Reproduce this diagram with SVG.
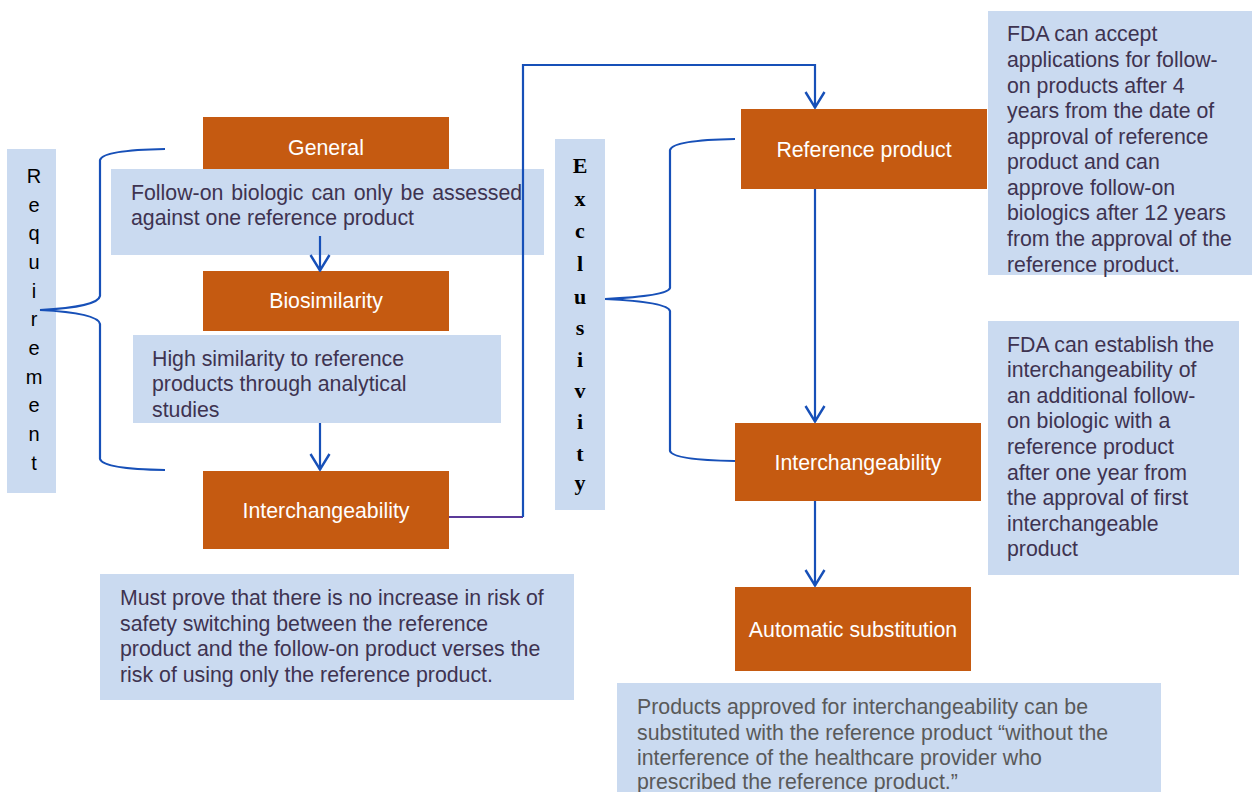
<svg xmlns="http://www.w3.org/2000/svg" width="1258" height="792" viewBox="0 0 1258 792">
<style>
.node{fill:#C55A11}
.note{fill:#CADAF0}
.nt{font-family:"Liberation Sans",Arial,sans-serif;font-size:21.3px;fill:#FFFFFF;text-anchor:middle}
.bt{font-family:"Liberation Sans",Arial,sans-serif;font-size:21.3px;fill:#3E3350}
.gt{font-family:"Liberation Sans",Arial,sans-serif;font-size:21.3px;fill:#595959}
.req{font-family:"Liberation Sans",Arial,sans-serif;font-size:20px;fill:#000000;text-anchor:middle}
.exc{font-family:"Liberation Serif","Times New Roman",serif;font-size:22px;font-weight:bold;fill:#000000;text-anchor:middle}
.ln{fill:none;stroke:#1750B8;stroke-width:2.2}
</style>
<defs>
<marker id="ah" viewBox="0 0 18 22" refX="17" refY="11" markerWidth="18" markerHeight="22" markerUnits="userSpaceOnUse" orient="auto">
<path d="M1,1.5 L16.5,11 L1,20.5" fill="none" stroke="#1750B8" stroke-width="2.4"/>
</marker>
</defs>

<g id="requirement">
<rect class="note" x="7" y="149" width="49" height="344"/>
<text class="req" x="34" y="183">R</text>
<text class="req" x="34" y="212">e</text>
<text class="req" x="34" y="240">q</text>
<text class="req" x="34" y="269">u</text>
<text class="req" x="34" y="298">i</text>
<text class="req" x="34" y="326">r</text>
<text class="req" x="34" y="355">e</text>
<text class="req" x="34" y="384">m</text>
<text class="req" x="34" y="412">e</text>
<text class="req" x="34" y="441">n</text>
<text class="req" x="34" y="470">t</text>
</g>

<g id="general">
<rect class="node" x="203" y="117" width="246" height="60"/>
<text class="nt" x="326" y="155">General</text>
</g>

<g id="note-general">
<rect class="note" x="111" y="169" width="433" height="86"/>
<text class="bt" x="131" y="200" word-spacing="2">Follow-on biologic can only be assessed</text>
<text class="bt" x="131" y="225">against one reference product</text>
</g>

<g id="biosimilarity">
<rect class="node" x="203" y="271" width="246" height="60"/>
<text class="nt" x="326" y="308">Biosimilarity</text>
</g>

<g id="note-biosimilarity">
<rect class="note" x="133" y="335" width="368" height="88"/>
<text class="bt" x="152" y="366">High similarity to reference</text>
<text class="bt" x="152" y="391">products through analytical</text>
<text class="bt" x="152" y="417">studies</text>
</g>

<g id="interchangeability-left">
<rect class="node" x="203" y="471" width="246" height="78"/>
<text class="nt" x="326" y="518">Interchangeability</text>
</g>

<g id="note-interchangeability-left">
<rect class="note" x="100" y="574" width="474" height="126"/>
<text class="bt" x="120" y="605">Must prove that there is no increase in risk of</text>
<text class="bt" x="120" y="631">safety switching between the reference</text>
<text class="bt" x="120" y="656">product and the follow-on product verses the</text>
<text class="bt" x="120" y="682">risk of using only the reference product.</text>
</g>

<g id="exclusivity">
<rect class="note" x="555" y="139" width="50" height="371"/>
<text class="exc" x="580" y="173">E</text>
<text class="exc" x="580" y="206">x</text>
<text class="exc" x="580" y="238">c</text>
<text class="exc" x="580" y="271">l</text>
<text class="exc" x="580" y="304">u</text>
<text class="exc" x="580" y="335">s</text>
<text class="exc" x="580" y="367">i</text>
<text class="exc" x="580" y="398">v</text>
<text class="exc" x="580" y="429">i</text>
<text class="exc" x="580" y="461">t</text>
<text class="exc" x="580" y="490">y</text>
</g>

<g id="reference-product">
<rect class="node" x="741" y="109" width="246" height="80"/>
<text class="nt" x="864" y="157">Reference product</text>
</g>

<g id="note-reference-product">
<rect class="note" x="988" y="11" width="264" height="264"/>
<text class="bt" x="1007" y="41">FDA can accept</text>
<text class="bt" x="1007" y="67">applications for follow-</text>
<text class="bt" x="1007" y="93">on products after 4</text>
<text class="bt" x="1007" y="118">years from the date of</text>
<text class="bt" x="1007" y="144">approval of reference</text>
<text class="bt" x="1007" y="169">product and can</text>
<text class="bt" x="1007" y="195">approve follow-on</text>
<text class="bt" x="1007" y="220">biologics after 12 years</text>
<text class="bt" x="1007" y="246">from the approval of the</text>
<text class="bt" x="1007" y="272">reference product.</text>
</g>

<g id="interchangeability-right">
<rect class="node" x="735" y="423" width="246" height="78"/>
<text class="nt" x="858" y="470">Interchangeability</text>
</g>

<g id="note-interchangeability-right">
<rect class="note" x="988" y="321" width="251" height="254"/>
<text class="bt" x="1007" y="352">FDA can establish the</text>
<text class="bt" x="1007" y="377">interchangeability of</text>
<text class="bt" x="1007" y="403">an additional follow-</text>
<text class="bt" x="1007" y="428">on biologic with a</text>
<text class="bt" x="1007" y="454">reference product</text>
<text class="bt" x="1007" y="480">after one year from</text>
<text class="bt" x="1007" y="505">the approval of first</text>
<text class="bt" x="1007" y="531">interchangeable</text>
<text class="bt" x="1007" y="556">product</text>
</g>

<g id="automatic-substitution">
<rect class="node" x="735" y="587" width="236" height="84"/>
<text class="nt" x="853" y="637">Automatic substitution</text>
</g>

<g id="note-automatic-substitution">
<rect class="note" x="617" y="683" width="544" height="112"/>
<text class="gt" x="637" y="714">Products approved for interchangeability can be</text>
<text class="gt" x="637" y="740">substituted with the reference product “without the</text>
<text class="gt" x="637" y="765">interference of the healthcare provider who</text>
<text class="gt" x="637" y="789">prescribed the reference product.”</text>
</g>

<g id="connectors">
<path class="ln" d="M165,149 Q103,150 100,160 L100,296 Q98,307 40,310"/>
<path class="ln" d="M40,310 Q98,313 100,324 L100,459 Q103,469 165,470"/>
<path class="ln" d="M735,139 Q673,140 670,150 L670,288 Q668,296 605,299"/>
<path class="ln" d="M605,299 Q668,302 670,311 L670,451 Q673,460 735,461"/>
<path class="ln" d="M320,236 L320,271" marker-end="url(#ah)"/>
<path class="ln" d="M320,423 L320,470" marker-end="url(#ah)"/>
<path d="M449,517 L523,517" fill="none" stroke="#5B3A99" stroke-width="2"/>
<path class="ln" d="M523,517 L523,65 L815,65 L815,108" marker-end="url(#ah)"/>
<path class="ln" d="M815,189 L815,422" marker-end="url(#ah)"/>
<path class="ln" d="M815,501 L815,586" marker-end="url(#ah)"/>
</g>
</svg>
